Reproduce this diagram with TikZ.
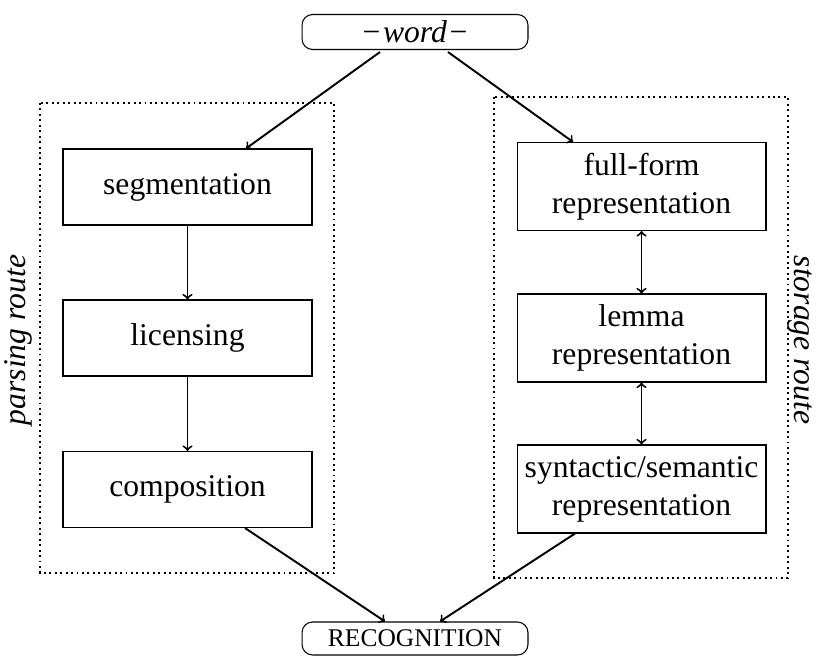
\documentclass[tikz,border=0pt]{standalone}
\usepackage{fontspec}
\setmainfont{Liberation Serif}
\usetikzlibrary{calc}

\begin{document}
\begin{tikzpicture}[x=0.02cm, y=-0.02cm,
		font=\fontsize{18}{21.6}\selectfont,
		stage/.style={draw, line width=0.6pt, align=center, inner sep=0pt, minimum width=4.98cm, minimum height=1.52cm},
		store/.style={stage, minimum height=1.76cm},
		endpoint/.style={draw, line width=0.6pt, rounded corners=6pt, inner sep=0pt, minimum width=4.52cm, minimum height=0.7cm},
		route/.style={draw, dotted, line width=1.1pt},
		link/.style={line width=1.1pt, ->},
		both/.style={line width=1.1pt, <->}]
			%%%%% START %%%%%
			
			\useasboundingbox (0, 0) rectangle (817, 655);
			
			\node[endpoint] (word) at (415, 32) {−\kern1.5pt\textit{word}\kern1.5pt−};
			\node[endpoint, minimum height=0.66cm] (recog) at (415, 638.5) {\fontsize{14.5}{17}\selectfont RECOGNITION};
			
			\draw[route] (40, 103) rectangle (334, 573);
			\draw[route] (494, 97) rectangle (788, 578);
			\node[rotate=90] (parse) at (18, 340) {\textit{parsing route}};
			\node[rotate=-90] (storage) at (800, 340) {\textit{storage route}};
			
			\node[stage] (seg) at (187.5, 187) {segmentation};
			\node[stage] (lic) at (187.5, 338) {licensing};
			\node[stage] (comp) at (187.5, 489.5) {composition};
			
			\node[store] (full) at (641.5, 186.5) {full-form\\representation};
			\node[store] (lemma) at (641.5, 338) {lemma\\representation};
			\node[store] (synsem) at (641.5, 489) {syntactic/semantic\\representation};
			
			\draw[link] ($(word.south)+(-35, 2)$) -- ($(seg.north)+(58.5, 0)$);
			\draw[link] ($(word.south)+(33, 2)$) -- ($(full.north)+(-68.5, 0)$);
			
			\draw[link] (seg) -- (lic);
			\draw[link] (lic) -- (comp);
			\draw[both] (full) -- (lemma);
			\draw[both] (lemma) -- (synsem);
			
			\draw[link] ($(comp.south)+(57.5, 0)$) -- ($(recog.north)+(-30, 0)$);
			\draw[link] ($(synsem.south)+(-66.5, 0)$) -- ($(recog.north)+(25, 0)$);
			
			%%%%% END %%%%%
\end{tikzpicture}
\end{document}
